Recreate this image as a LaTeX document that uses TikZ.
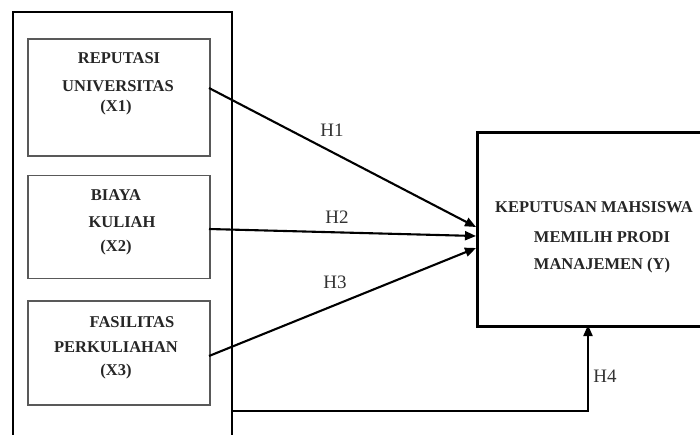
\documentclass[tikz,border=0pt]{standalone}
\usepackage{fontspec}
\setmainfont{Liberation Serif}
\usetikzlibrary{arrows.meta}
\begin{document}
\begin{tikzpicture}[x=1pt,y=-1pt,
  outerbox/.style={draw=black,line width=2.4pt},
  innerbox/.style={draw=black!65,line width=1.6pt},
  ybox/.style={draw=black,line width=2.6pt},
  lbl/.style={font=\fontsize{16.5}{18}\selectfont\bfseries,text=black!85,inner sep=0pt,anchor=center},
  hlbl/.style={font=\fontsize{19}{20}\selectfont,text=black!80,inner sep=0pt,anchor=center},
  conn/.style={draw=black,line width=2.1pt,-{Triangle[length=11pt,width=9pt]}}]
\useasboundingbox (0,0) rectangle (700,434);
\fill[white] (0,0) rectangle (700,434);
% boxes
\draw[outerbox] (13,450) -- (13,12) -- (232,12) -- (232,450);
\node[innerbox,minimum width=182pt,minimum height=117pt,inner sep=0pt,anchor=north west] (x1) at (27,38) {};
\node[innerbox,minimum width=182pt,minimum height=103pt,inner sep=0pt,anchor=north west] (x2) at (27,174.5) {};
\node[innerbox,minimum width=182pt,minimum height=104pt,inner sep=0pt,anchor=north west] (x3) at (27,300) {};
\node[ybox,minimum width=260pt,minimum height=194pt,inner sep=0pt,anchor=north west] (y) at (476,131) {};
% texts
\node[lbl] (x1a) at (119,58) {REPUTASI};
\node[lbl] (x1b) at (118,86) {UNIVERSITAS};
\node[lbl] (x1c) at (116,108) {(X1)};
\node[lbl] (x2a) at (116,195) {BIAYA};
\node[lbl] (x2b) at (122,222) {KULIAH};
\node[lbl] (x2c) at (116,248) {(X2)};
\node[lbl] (x3a) at (132,322) {FASILITAS};
\node[lbl] (x3b) at (116,347) {PERKULIAHAN};
\node[lbl] (x3c) at (116,372) {(X3)};
\node[lbl] (ya) at (594,207) {KEPUTUSAN MAHSISWA};
\node[lbl] (yb) at (602,237) {MEMILIH PRODI};
\node[lbl] (yc) at (602,266) {MANAJEMEN (Y)};
% connector anchors
\coordinate (s1) at (209,88);
\coordinate (s2) at (209,229);
\coordinate (s3) at (209,356);
\coordinate (t1) at (476,227);
\coordinate (t2) at (476,236);
\coordinate (t3) at (476,248);
\coordinate (s4) at (232,411);
\coordinate (c4) at (588,411);
\coordinate (t4) at (588,325);
\draw[conn] (s1) -- (t1);
\draw[conn] (s2) -- (t2);
\draw[conn] (s3) -- (t3);
\draw[conn] (s4) -- (c4) -- (t4);
% labels
\node[hlbl] (h1) at (332,130) {H1};
\node[hlbl] (h2) at (337,217) {H2};
\node[hlbl] (h3) at (335,282) {H3};
\node[hlbl] (h4) at (605,376) {H4};
\end{tikzpicture}
\end{document}
